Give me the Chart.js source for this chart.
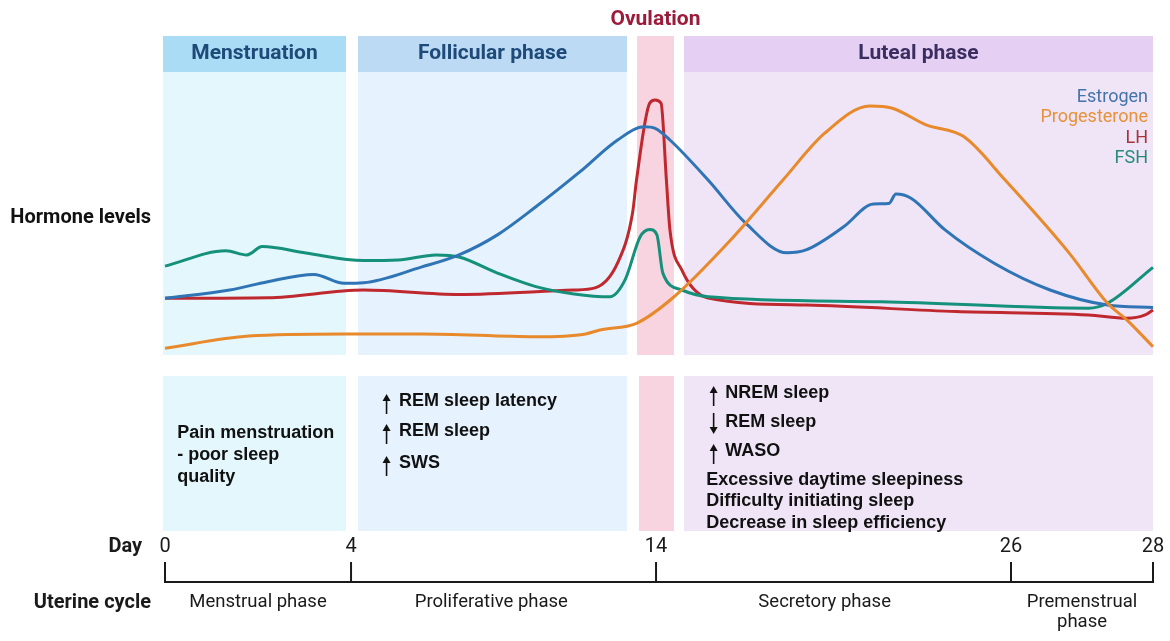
<!DOCTYPE html>
<html>
<head>
<meta charset="utf-8">
<script src="https://cdn.jsdelivr.net/npm/chart.js@4.4.1/dist/chart.umd.min.js"></script>
<style>
html,body{margin:0;padding:0;background:#ffffff;}
#wrap{width:1170px;height:641px;position:relative;}
</style>
</head>
<body>
<div id="wrap"><canvas id="c" width="1170" height="641"></canvas></div>
<script>
// ---------- DATA ----------
const dayTicks = [0, 4, 14, 26, 28];
const dayTickLabels = ['0', '4', '14', '26', '28'];

const estrogenDays   = [0, 1.39, 2.21, 3.2, 3.85, 4.41, 6.3, 7.54, 8.8, 10.06, 11.51, 12.74, 13.61, 13.97, 14.47, 15.76, 17.03, 18.43, 19.07, 20.34, 21.35, 21.87, 22.11, 22.62, 23.77, 25.43, 26.55, 27.36, 28];
const estrogenLevels = [21.8, 25.0, 28.2, 31.0, 27.6, 27.8, 33.8, 38.5, 46.2, 57.0, 70.5, 82.7, 87.8, 87.2, 82.7, 67.3, 50.7, 39.3, 40.4, 49.3, 58.1, 58.3, 61.9, 60.3, 48.1, 35.3, 25.0, 19.2, 18.3];

const progesteroneDays   = [0, 1.8, 3.85, 6.3, 10.06, 11.69, 12.16, 13.36, 14.61, 16.52, 18.29, 19.7, 21.23, 21.99, 23.13, 24.4, 25.8, 26.82, 27.36, 27.63, 28];
const progesteroneLevels = [2.6, 7.3, 8.1, 8.1, 7.0, 8.1, 9.6, 12.2, 22.4, 44.2, 67.3, 85.3, 95.8, 94.9, 88.5, 84.0, 67.3, 39.2, 19.9, 13.5, 3.2];

const lhDays   = [0, 2.21, 4.41, 7.54, 11.31, 12.0, 12.74, 13.23, 13.36, 13.79, 13.97, 14.17, 14.35, 14.47, 14.87, 15.76, 19.07, 24.14, 27.09, 27.63, 27.89, 28];
const lhLevels = [21.8, 22.0, 25.0, 23.3, 25.0, 25.8, 35.4, 54.6, 67.3, 96.8, 98.1, 96.8, 67.3, 48.1, 32.7, 21.9, 19.2, 16.7, 15.4, 14.1, 15.4, 17.3];

const fshDays   = [0, 1.31, 1.76, 2.09, 3.03, 4.41, 5.54, 6.79, 7.54, 8.8, 10.06, 11.31, 12.49, 12.98, 13.48, 13.79, 14.03, 14.23, 14.87, 15.76, 21.61, 27.09, 27.36, 28];
const fshLevels = [34.2, 40.1, 38.5, 41.7, 39.2, 36.3, 36.5, 38.5, 37.7, 31.5, 26.3, 23.5, 22.4, 28.8, 45.5, 48.3, 46.2, 31.5, 25.0, 22.4, 20.5, 18.0, 19.9, 33.7];

const seriesNames = ['Estrogen', 'Progesterone', 'LH', 'FSH'];

const phaseNames = ['Menstruation', 'Follicular phase', '', 'Luteal phase'];
const phaseStartDay = [-0.04, 4.23, 13.38, 14.95];
const phaseEndDay   = [3.9, 13.05, 14.6, 28.0];

const uterineNames = [['Menstrual phase'], ['Proliferative phase'], ['Secretory phase'], ['Premenstrual', 'phase']];
const uterineLabelDay = [2, 8.6, 19.7, 27];

const menstruationNotes = ['Pain menstruation', '- poor sleep', 'quality'];
const follicularNotes = ['REM sleep latency', 'REM sleep', 'SWS'];
const follicularArrows = ['up', 'up', 'up'];
const lutealNotes = ['NREM sleep', 'REM sleep', 'WASO'];
const lutealArrows = ['up', 'down', 'up'];
const lutealPlainNotes = ['Excessive daytime sleepiness', 'Difficulty initiating sleep', 'Decrease in sleep efficiency'];

// ---------- STYLE / LAYOUT ----------
const tickSpacing = [0, 0.1883, 0.497, 0.8563, 1]; // relative axis position of each day tick
const lineColors = ['#2f74b5', '#e88a2c', '#c0282f', '#15907b'];
const legendColors = ['#4473aa', '#e6923a', '#a8323e', '#2a8a7a'];
const headerColors = ['#aadcf5', '#bddaf5', '#f7d4e0', '#e5d0f4'];
const bodyColors   = ['#e3f7fd', '#e6f2fd', '#f7d4e0', '#efe5f7'];
const headerTextColors = ['#1d4a78', '#1d4a78', '', '#3c2d60'];

const LinearScale = Chart.LinearScale || Chart.registry.getScale('linear');
class PiecewiseScale extends LinearScale {
  _toDec(v) {
    const n = dayTicks.length;
    for (let i = 0; i < n - 1; i++) {
      if (v <= dayTicks[i + 1] || i === n - 2) {
        const t = (v - dayTicks[i]) / (dayTicks[i + 1] - dayTicks[i]);
        return tickSpacing[i] + t * (tickSpacing[i + 1] - tickSpacing[i]);
      }
    }
    return 0;
  }
  getPixelForValue(v) {
    if (v === null || v === undefined) return NaN;
    return this.getPixelForDecimal(this._toDec(v));
  }
  getValueForPixel(p) {
    const d = this.getDecimalForPixel(p);
    const n = dayTicks.length;
    for (let i = 0; i < n - 1; i++) {
      if (d <= tickSpacing[i + 1] || i === n - 2) {
        const t = (d - tickSpacing[i]) / (tickSpacing[i + 1] - tickSpacing[i]);
        return dayTicks[i] + t * (dayTicks[i + 1] - dayTicks[i]);
      }
    }
    return 0;
  }
}
PiecewiseScale.id = 'piecewise';
PiecewiseScale.defaults = Object.assign({}, LinearScale.defaults);
Chart.register(PiecewiseScale);

function pts(days, levels) { return days.map((d, i) => ({ x: d, y: levels[i] })); }

const ROBOTO = 'Roboto, "Noto Sans", sans-serif';
const ARIAL = '"Liberation Sans", Arial, sans-serif';

function arrow(ctx, x, y1, y2, dir) {
  ctx.save();
  ctx.strokeStyle = '#111'; ctx.fillStyle = '#111'; ctx.lineWidth = 1.6;
  ctx.beginPath();
  if (dir === 'up') { ctx.moveTo(x, y1 + 5); ctx.lineTo(x, y2); }
  else { ctx.moveTo(x, y1); ctx.lineTo(x, y2 - 5); }
  ctx.stroke();
  ctx.beginPath();
  if (dir === 'up') { ctx.moveTo(x, y1); ctx.lineTo(x - 4, y1 + 7); ctx.lineTo(x + 4, y1 + 7); }
  else { ctx.moveTo(x, y2); ctx.lineTo(x - 4, y2 - 7); ctx.lineTo(x + 4, y2 - 7); }
  ctx.closePath(); ctx.fill();
  ctx.restore();
}

const decor = {
  id: 'decor',
  beforeDatasetsDraw(chart) {
    const ctx = chart.ctx;
    const xs = chart.scales.x;
    ctx.save();
    // phase boxes
    for (let i = 0; i < phaseNames.length; i++) {
      const x1 = Math.round(xs.getPixelForValue(phaseStartDay[i]));
      const x2 = Math.round(xs.getPixelForValue(phaseEndDay[i]));
      ctx.fillStyle = bodyColors[i];
      ctx.fillRect(x1, 36, x2 - x1, 319);
      ctx.fillStyle = headerColors[i];
      ctx.fillRect(x1, 36, x2 - x1, 36);
      ctx.fillStyle = bodyColors[i];
      const lx1 = i === 2 ? x1 + 2 : x1;
      ctx.fillRect(lx1, 376, x2 - lx1, 155);
      if (phaseNames[i]) {
        ctx.fillStyle = headerTextColors[i];
        ctx.font = 'bold 21px ' + ROBOTO;
        ctx.textAlign = 'center'; ctx.textBaseline = 'middle';
        ctx.fillText(phaseNames[i], (x1 + x2) / 2, 54);
      }
    }
    // Ovulation title
    const ovC = (xs.getPixelForValue(phaseStartDay[2]) + xs.getPixelForValue(phaseEndDay[2])) / 2;
    ctx.fillStyle = '#9b1b3a';
    ctx.font = 'bold 21px ' + ROBOTO;
    ctx.textAlign = 'center'; ctx.textBaseline = 'middle';
    ctx.fillText('Ovulation', ovC, 20);

    // Hormone levels
    ctx.fillStyle = '#111';
    ctx.font = 'bold 20px ' + ROBOTO;
    ctx.textAlign = 'right';
    ctx.fillText('Hormone levels', 151, 218);

    // legend
    ctx.font = '18px ' + ROBOTO;
    ctx.textAlign = 'right';
    for (let i = 0; i < seriesNames.length; i++) {
      ctx.fillStyle = legendColors[i];
      ctx.fillText(seriesNames[i], 1148, 97 + i * 20.5);
    }

    // sleep notes
    ctx.fillStyle = '#111';
    ctx.font = 'bold 18px ' + ARIAL;
    ctx.textAlign = 'left';
    const mx = xs.getPixelForValue(phaseStartDay[0]) + 14;
    menstruationNotes.forEach((t, i) => ctx.fillText(t, mx, 433 + i * 22));
    const fx = xs.getPixelForValue(phaseStartDay[1]);
    const fy = [401, 431, 463];
    follicularNotes.forEach((t, i) => {
      ctx.fillText(t, fx + 41, fy[i]);
      arrow(ctx, fx + 28.5, fy[i] - 7, fy[i] + 13, follicularArrows[i]);
    });
    const lx = xs.getPixelForValue(phaseStartDay[3]);
    const ly = [393, 422, 451];
    lutealNotes.forEach((t, i) => {
      ctx.fillText(t, lx + 41, ly[i]);
      if (lutealArrows[i] === 'up') arrow(ctx, lx + 29.5, ly[i] - 7, ly[i] + 13, 'up');
      else arrow(ctx, lx + 29.5, ly[i] - 9, ly[i] + 12, 'down');
    });
    lutealPlainNotes.forEach((t, i) => ctx.fillText(t, lx + 22, 480 + i * 21.5));

    // timeline
    ctx.strokeStyle = '#1a1a1a'; ctx.lineWidth = 2;
    const x0 = xs.getPixelForValue(dayTicks[0]);
    const xN = xs.getPixelForValue(dayTicks[dayTicks.length - 1]);
    ctx.beginPath(); ctx.moveTo(x0, 582); ctx.lineTo(xN, 582); ctx.stroke();
    ctx.font = '20px ' + ROBOTO;
    ctx.textAlign = 'center'; ctx.textBaseline = 'middle';
    dayTicks.forEach((d, i) => {
      const px = xs.getPixelForValue(d);
      ctx.beginPath(); ctx.moveTo(px, 562); ctx.lineTo(px, 583); ctx.stroke();
      ctx.fillStyle = '#1a1a1a';
      ctx.fillText(dayTickLabels[i], px, 547);
    });
    ctx.font = 'bold 20px ' + ROBOTO;
    ctx.textAlign = 'right';
    ctx.fillText('Day', 142, 547);
    ctx.fillText('Uterine cycle', 151, 603);
    ctx.font = '18.5px ' + ROBOTO;
    ctx.textAlign = 'center';
    uterineNames.forEach((lines, i) => {
      const px = xs.getPixelForValue(uterineLabelDay[i]);
      lines.forEach((t, j) => ctx.fillText(t, px, 602 + j * 20));
    });
    ctx.restore();
  }
};

const datasetsSrc = [
  [estrogenDays, estrogenLevels],
  [progesteroneDays, progesteroneLevels],
  [lhDays, lhLevels],
  [fshDays, fshLevels]
];
const drawOrder = [1, 0, 3, 2];

new Chart(document.getElementById('c'), {
  type: 'line',
  data: {
    datasets: drawOrder.map(i => ({
      label: seriesNames[i],
      data: pts(datasetsSrc[i][0], datasetsSrc[i][1]),
      borderColor: lineColors[i],
      borderWidth: 3,
      pointRadius: 0,
      fill: false,
      cubicInterpolationMode: 'monotone',
      clip: false
    }))
  },
  options: {
    responsive: false,
    animation: false,
    events: [],
    layout: { padding: { left: 165, right: 17, top: 95, bottom: 286 } },
    scales: {
      x: { type: 'piecewise', min: 0, max: 28, display: false },
      y: { type: 'linear', min: 0, max: 100, display: false }
    },
    plugins: { legend: { display: false }, tooltip: { enabled: false } }
  },
  plugins: [decor]
});
</script>
</body>
</html>
